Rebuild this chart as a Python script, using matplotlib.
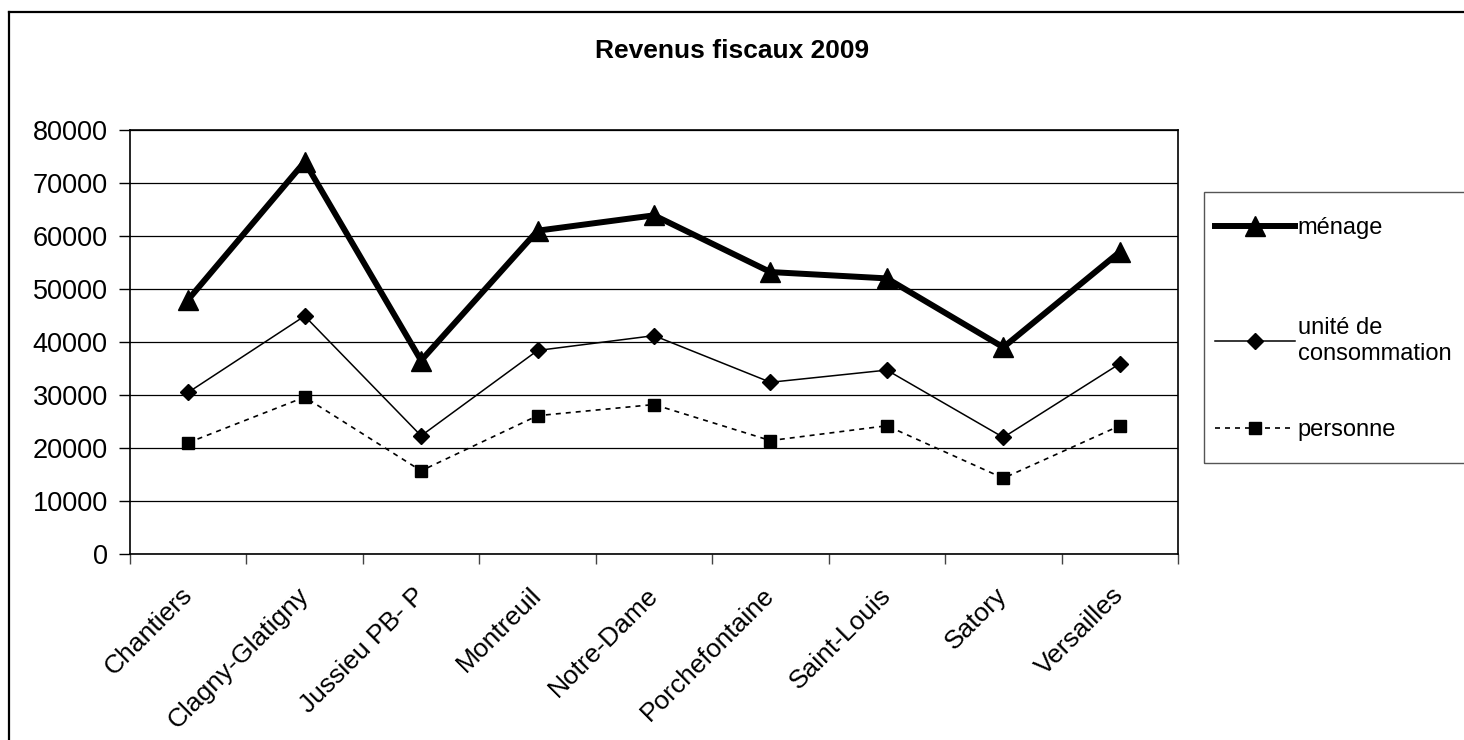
import matplotlib
matplotlib.use("Agg")
import matplotlib.pyplot as plt
from matplotlib.lines import Line2D
from matplotlib.patches import Rectangle
import numpy as np

plt.rcParams['font.family'] = ['Liberation Sans', 'DejaVu Sans']

# Data
quartiers = ['Chantiers', 'Clagny-Glatigny', 'Jussieu PB- P', 'Montreuil',
             'Notre-Dame', 'Porchefontaine', 'Saint-Louis', 'Satory', 'Versailles']
menage = [48000, 74000, 36500, 61000, 63900, 53200, 52000, 39000, 57000]
unite_conso = [30500, 44900, 22300, 38400, 41200, 32400, 34700, 22000, 35900]
personne = [21000, 29600, 15700, 26100, 28200, 21400, 24200, 14300, 24200]
labels = ['ménage', 'unité de\nconsommation', 'personne']

W, H = 1464, 740
fig = plt.figure(figsize=(W / 100, H / 100), dpi=100)
ax = fig.add_axes([130 / W, 1 - 554 / H, (1178 - 130) / W, (554 - 130) / H])

x = np.arange(len(quartiers))
l1, = ax.plot(x, menage, color='black', lw=4.3, marker='^', ms=14,
              clip_on=False, zorder=5)
l2, = ax.plot(x, unite_conso, color='black', lw=1.1, marker='D', ms=8,
              clip_on=False, zorder=5)
l3, = ax.plot(x, personne, color='black', lw=1.2, linestyle=(0, (3, 3)),
              marker='s', ms=9, clip_on=False, zorder=5)

ax.set_xlim(-0.5, len(quartiers) - 0.5)
ax.set_ylim(0, 80000)
ax.set_yticks(np.arange(0, 80001, 10000))
ax.yaxis.grid(True, color='black', lw=0.9)
ax.set_axisbelow(True)
for s in ax.spines.values():
    s.set_color('black')
    s.set_linewidth(1.2)

ax.set_xticks(x)
ax.set_xticks(np.arange(-0.5, len(quartiers), 1.0), minor=True)
ax.tick_params(axis='x', which='major', length=0, pad=27)
ax.tick_params(axis='x', which='minor', length=7, width=1, color='#444444')
ax.tick_params(axis='y', length=8, width=1, pad=8, labelsize=19.5)
ax.set_xticklabels(quartiers, rotation=45, ha='right', va='center',
                   rotation_mode='anchor', fontsize=19)

fig.text(0.5, 1 - 51 / H, 'Revenus fiscaux 2009', ha='center', va='center',
         fontsize=19, fontweight='bold')

# legend box (cut by the right edge as in the original)
fig.patches.append(Rectangle((1204 / W, 1 - 463 / H), 300 / W, (463 - 192) / H,
                             transform=fig.transFigure, fill=False,
                             edgecolor='#555555', lw=1))
ys = [228, 341, 430]
for h, lab, y in zip([l1, l2, l3], labels, ys):
    fig.legend([h], [lab], loc='center left', bbox_to_anchor=(1215 / W, 1 - y / H),
               frameon=False, fontsize=17, handlelength=3.4, handletextpad=0.1,
               borderpad=0, borderaxespad=0)

# outer chart frame
fig.lines.append(Line2D([9 / W, 9 / W], [0, 1 - 12 / H], transform=fig.transFigure,
                        color='black', lw=1.6))
fig.lines.append(Line2D([9 / W, 1], [1 - 12 / H, 1 - 12 / H], transform=fig.transFigure,
                        color='black', lw=1.6))

fig.savefig('out.png', dpi=100)
